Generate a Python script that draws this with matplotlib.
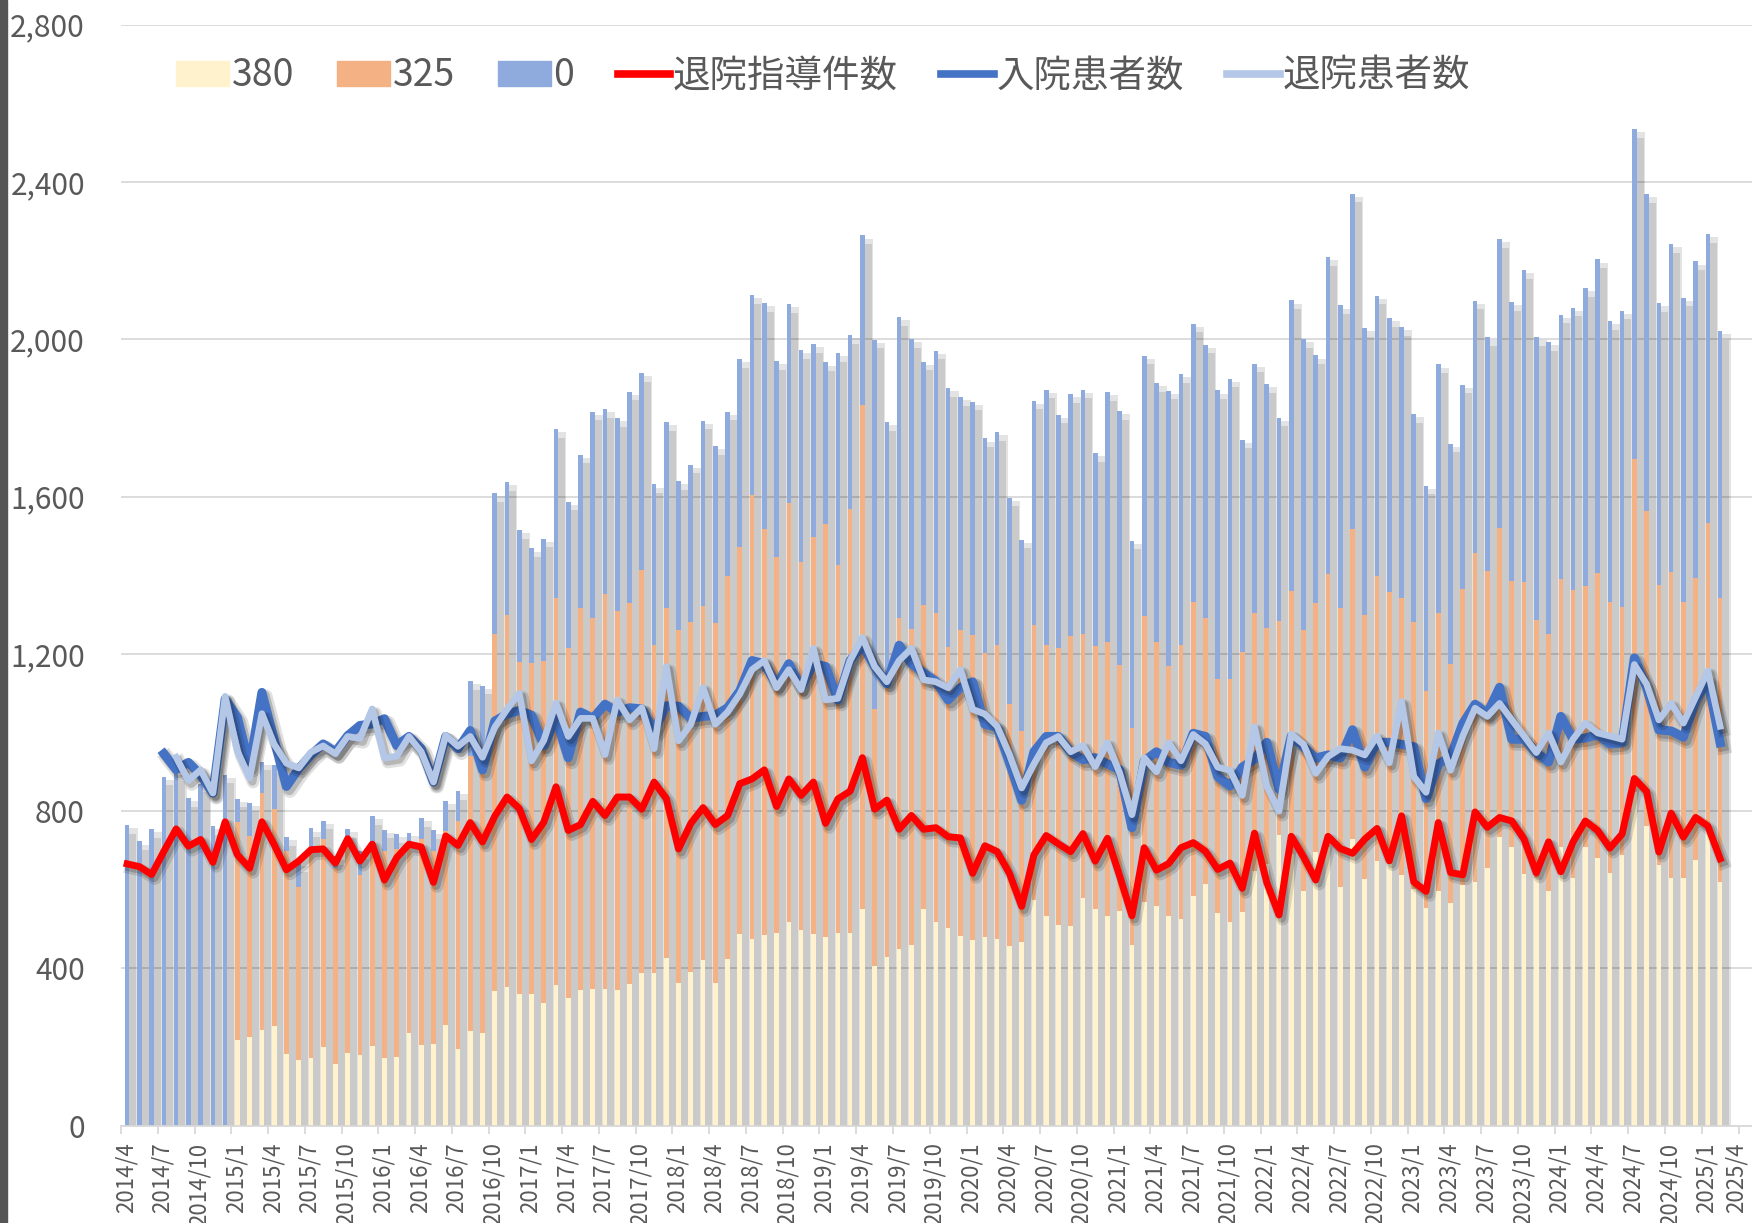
import numpy as np
import matplotlib
import matplotlib.pyplot as plt
import matplotlib.patheffects as pe
from matplotlib.lines import Line2D
from matplotlib.patches import Patch, Rectangle
from matplotlib.ticker import FuncFormatter
from matplotlib.transforms import ScaledTranslation

matplotlib.use('Agg')
plt.rcParams['font.family'] = ['Noto Sans CJK JP', 'DejaVu Sans']

# monthly data, 2014/4 .. 2025/2
v380 = [0] * 9 + [
    217, 226, 243, 253, 183, 167, 173, 201, 157, 186, 179, 204, 173, 174, 237, 206, 208, 256, 194, 240,
    237, 342, 353, 334, 334, 311, 357, 326, 346, 349, 349, 346, 361, 388, 388, 426, 364, 392, 422, 363,
    423, 488, 476, 486, 491, 519, 499, 488, 480, 491, 491, 550, 406, 429, 449, 460, 550, 519, 503, 483,
    473, 481, 476, 457, 468, 573, 534, 510, 507, 578, 550, 534, 547, 460, 568, 558, 534, 527, 584, 616,
    542, 518, 543, 649, 665, 739, 690, 596, 696, 710, 607, 728, 628, 673, 665, 637, 601, 553, 598, 566,
    612, 619, 656, 734, 709, 640, 630, 597, 709, 630, 709, 681, 643, 688, 850, 762, 664, 630, 630, 676,
    760, 621]
v325 = [0] * 9 + [
    555, 511, 602, 553, 517, 440, 532, 529, 498, 539, 459, 508, 527, 531, 481, 522, 492, 493, 581, 701,
    660, 908, 945, 846, 843, 870, 984, 888, 971, 942, 1004, 964, 969, 1025, 835, 891, 896, 888, 900, 916,
    976, 985, 1127, 1031, 955, 1064, 934, 1009, 1051, 936, 1078, 1282, 653, 711, 842, 803, 775, 784, 714, 777,
    775, 721, 747, 615, 537, 700, 688, 704, 738, 673, 669, 695, 625, 552, 728, 671, 634, 696, 749, 675,
    593, 617, 663, 656, 602, 544, 669, 666, 633, 692, 709, 789, 672, 725, 693, 706, 679, 553, 707, 609,
    754, 837, 756, 787, 676, 744, 656, 654, 681, 732, 663, 724, 688, 631, 845, 802, 711, 778, 701, 718,
    774, 720]
v0 = [
    765, 723, 754, 888, 900, 833, 870, 762, 893,
    60, 85, 81, 112, 34, 61, 51, 46, 30, 30, 62, 76, 53, 37, 26, 55, 51, 77, 76, 190,
    222, 359, 339, 335, 291, 312, 431, 373, 390, 525, 469, 489, 537, 501, 408, 472, 379, 401, 471, 449,
    417, 476, 510, 575, 498, 507, 539, 491, 410, 538, 442, 432, 940, 650, 765, 737, 618, 668, 659, 593,
    593, 546, 541, 525, 485, 571, 650, 594, 615, 621, 491, 637, 645, 476, 662, 660, 701, 688, 707, 695,
    735, 765, 539, 633, 619, 518, 740, 738, 630, 807, 770, 853, 728, 713, 696, 688, 530, 522, 631, 560,
    519, 642, 593, 734, 709, 792, 719, 742, 673, 718, 758, 798, 715, 754, 840, 805, 717, 834, 775, 804,
    734, 680]

guidance = [
    666, 659, 639, 698, 755, 711, 728, 670, 773, 689, 655, 773, 715, 651, 673, 702, 704, 668, 730, 673,
    716, 625, 682, 716, 709, 619, 737, 713, 771, 722, 787, 836, 807, 728, 772, 862, 751, 766, 825, 789,
    836, 836, 805, 874, 832, 704, 769, 809, 766, 789, 870, 882, 905, 812, 882, 840, 874, 769, 831, 851,
    936, 805, 828, 754, 789, 754, 758, 735, 732, 642, 712, 697, 642, 558, 689, 738, 717, 697, 743, 673,
    731, 635, 534, 707, 650, 667, 707, 720, 698, 652, 668, 604, 744, 619, 536, 736, 684, 625, 736, 705,
    693, 729, 756, 674, 788, 620, 596, 771, 644, 638, 798, 759, 784, 775, 729, 643, 722, 646, 722, 775,
    751, 706, 742, 883, 850, 696, 795, 734, 784, 762, 679]
admitted = [None] * 3 + [
    946, 906, 924, 892, 846, 1085, 1038, 915, 1102, 982, 863, 908, 943, 971, 951, 992, 1018, 1022, 1035,
    967, 990, 959, 874, 990, 959, 1005, 905, 1029, 1047, 1056, 1044, 967, 1036, 936, 1052, 1036, 1072, 1052,
    1063, 1060, 1005, 1068, 1067, 1036, 1041, 1044, 1063, 1106, 1183, 1175, 1121, 1175, 1114, 1175, 1168,
    1083, 1183, 1222, 1168, 1124, 1222, 1175, 1152, 1130, 1083, 1114, 1129, 1021, 1013, 924, 828, 951, 990,
    990, 951, 931, 936, 920, 905, 758, 928, 951, 924, 917, 998, 990, 888, 864, 912, 932, 975, 856, 991,
    964, 935, 943, 935, 1007, 912, 975, 975, 970, 964, 832, 920, 939, 1023, 1072, 1049, 1115, 983, 983,
    949, 925, 1041, 983, 986, 994, 971, 974, 1190, 1115, 1007, 1004, 988, 1082, 1132, 974]
discharged = [None] * 4 + [
    937, 878, 905, 846, 1092, 952, 884, 1048, 970, 922, 910, 950, 966, 946, 990, 985, 1060, 935,
    940, 990, 951, 874, 993, 965, 990, 937, 1013, 1059, 1100, 928, 980, 1075, 990, 1036, 1036, 944, 1083,
    1032, 1063, 959, 1168, 979, 1021, 1114, 1021, 1052, 1098, 1160, 1183, 1114, 1160, 1109, 1214, 1083,
    1087, 1183, 1242, 1168, 1129, 1183, 1214, 1134, 1129, 1114, 1160, 1059, 1047, 1016, 944, 859, 920, 974,
    990, 951, 967, 913, 974, 897, 791, 936, 900, 974, 928, 995, 971, 912, 904, 840, 1015, 864, 800, 996,
    970, 896, 939, 959, 955, 943, 991, 923, 1079, 888, 848, 999, 904, 991, 1062, 1041, 1074, 1032, 991,
    949, 999, 925, 983, 1024, 999, 991, 983, 1173, 1123, 1032, 1074, 1024, 1090, 1157, 1016]

tick_labels = []
for k in range(45):
    m = 4 + 3 * k
    tick_labels.append(f'{2014 + (m - 1) // 12}/{(m - 1) % 12 + 1}')

v380 = np.array(v380, dtype=float)
v325 = np.array(v325, dtype=float)
v0 = np.array(v0, dtype=float)
admitted = np.array(admitted, dtype=float)
discharged = np.array(discharged, dtype=float)
n = len(v0)
x = np.arange(n) + 0.5
total = v380 + v325 + v0

text_color = '#595959'
grid_color = '#D9D9D9'
c380, c325, c0 = '#FFF2CC', '#F4B183', '#8FAADC'
c_red, c_dark, c_light = '#FF0000', '#4472C4', '#B4C7E7'

fig = plt.figure(figsize=(17.52, 12.23), dpi=100)
ax = fig.add_axes([121 / 1752, 0.0795, 1631 / 1752, 0.9003])
fig.patches.append(Rectangle((0, 0), 7 / 1752, 1, transform=fig.transFigure,
                             color='#555555', zorder=10))

ax.set_axisbelow(True)
ax.yaxis.grid(True, color=grid_color, linewidth=1.3)

# soft bar shadows (two layers)
ax.bar(x + 0.42, np.maximum(total - 8, 0), width=0.86, color='k', alpha=0.11,
       linewidth=0, zorder=1)
ax.bar(x + 0.40, np.maximum(total - 22, 0), width=0.72, color='k', alpha=0.11,
       linewidth=0, zorder=1)
w = 0.38
ax.bar(x, v380, width=w, color=c380, linewidth=0, zorder=2)
ax.bar(x, v325, width=w, bottom=v380, color=c325, linewidth=0, zorder=2)
ax.bar(x, v0, width=w, bottom=v380 + v325, color=c0, linewidth=0, zorder=2)


def shadow(lw):
    return [pe.SimpleLineShadow(offset=(2.5, -3), shadow_color='k', alpha=0.12,
                                linewidth=lw + 4),
            pe.SimpleLineShadow(offset=(2, -2.5), shadow_color='k', alpha=0.18,
                                linewidth=lw + 1),
            pe.Normal()]


ax.plot(x, guidance, color=c_red, lw=5, zorder=4, path_effects=shadow(5))
ax.plot(x, admitted, color=c_dark, lw=6.5, zorder=5, path_effects=shadow(6.5))
ax.plot(x, discharged, color=c_light, lw=4.8, zorder=6, path_effects=shadow(4.8))

ax.set_xlim(0, 133.1)
ax.set_ylim(0, 2800)
ax.set_yticks(np.arange(0, 2801, 400))
ax.yaxis.set_major_formatter(FuncFormatter(lambda v, p: f'{int(v):,}'))
ax.tick_params(axis='y', length=0, pad=26, labelsize=21.5, labelcolor=text_color)

ax.set_xticks(np.arange(0, 133, 3))
ax.set_xticklabels([])
ax.set_xticks(np.arange(0, 133, 3) + 0.38, minor=True)
ax.set_xticklabels(tick_labels, minor=True, rotation=90)
ax.tick_params(axis='x', which='major', length=6, width=1.3, color=grid_color)
ax.tick_params(axis='x', which='minor', length=0, pad=12, labelsize=16,
               labelcolor=text_color)
last = ax.get_xticklabels(minor=True)[-1]
last.set_transform(last.get_transform() + ScaledTranslation(-5 / 72, 0, fig.dpi_scale_trans))

for s in ['left', 'top', 'right']:
    ax.spines[s].set_visible(False)
ax.spines['bottom'].set_color(grid_color)
ax.spines['bottom'].set_linewidth(1.3)

handles = [
    Patch(color=c380, label='380'),
    Patch(color=c325, label='325'),
    Patch(color=c0, label='0'),
    Line2D([], [], color=c_red, lw=5.5, label='退院指導件数'),
    Line2D([], [], color=c_dark, lw=5.5, label='入院患者数'),
    Line2D([], [], color=c_light, lw=5.5, label='退院患者数'),
]
leg = fig.legend(handles=handles, loc='center left', ncol=6, frameon=False,
                 bbox_to_anchor=(176 / 1752, 1 - 76 / 1223), borderpad=0,
                 borderaxespad=0, fontsize=27, handlelength=1.4, handleheight=0.65,
                 handletextpad=0.08, columnspacing=1.15)
for t in leg.get_texts():
    t.set_color(text_color)

fig.savefig('out.png', dpi=100)
